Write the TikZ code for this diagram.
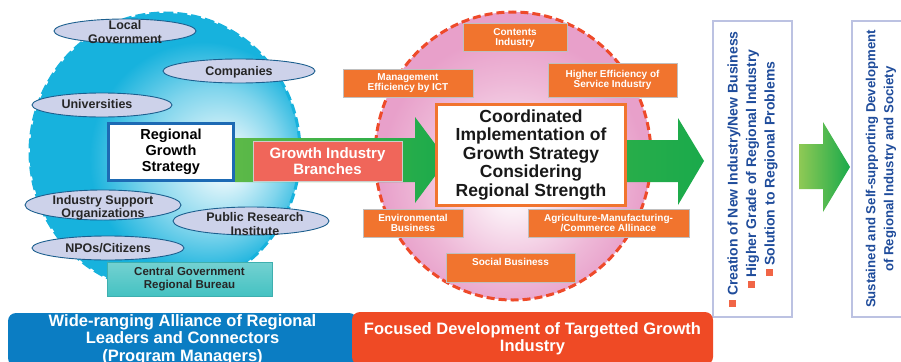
\documentclass[tikz,border=0pt]{standalone}
\usepackage{fontspec}
\setmainfont{Liberation Sans}
\usetikzlibrary{positioning}

\definecolor{skyblue}{HTML}{17B2DD}
\definecolor{lavender}{HTML}{CDD2EA}
\definecolor{ovalline}{HTML}{1C5F8E}
\definecolor{strategyblue}{HTML}{1D6AB4}
\definecolor{pinkball}{HTML}{E8A0CA}
\definecolor{dashred}{HTML}{EE4A2A}
\definecolor{branchorange}{HTML}{F1742E}
\definecolor{salmon}{HTML}{F0665A}
\definecolor{growgreen}{HTML}{1AAA4B}
\definecolor{lightgreen}{HTML}{5DB948}
\definecolor{palegreen}{HTML}{8FC955}
\definecolor{bureauteal}{HTML}{45C2C2}
\definecolor{alliance}{HTML}{0B7DC3}
\definecolor{focusred}{HTML}{EF4A25}
\definecolor{resultblue}{HTML}{1F4C9B}
\definecolor{frameline}{HTML}{BCC2E2}

\pgfdeclareradialshading{bluesphere}{\pgfpoint{12bp}{-2bp}}{color(0bp)=(white); color(4bp)=(white!85!skyblue); color(13bp)=(skyblue!55!white); color(21bp)=(skyblue); color(50bp)=(skyblue)}
\pgfdeclareradialshading{pinksphere}{\pgfpoint{0bp}{-6bp}}{color(0bp)=(white); color(5bp)=(white!80!pinkball); color(17bp)=(pinkball!75!white); color(24bp)=(pinkball); color(50bp)=(pinkball)}

% small red square for the result list
\newcommand\sqbullet{{\color{focusred!85}\raisebox{1.5pt}{\rule{7pt}{7pt}}}}

\begin{document}
\begin{tikzpicture}[x=1pt, y=-1pt,
	oval/.style={draw=ovalline, line width=0.9pt, fill=lavender},
	ovaltext/.style={align=center, text=black!85, font=\fontsize{12.5}{13.5}\selectfont\bfseries},
	branch/.style={draw=gray!50, line width=1pt, fill=branchorange, text=white, inner sep=0pt, align=center, font=\fontsize{10}{10.5}\selectfont\bfseries},
	bigbox/.style={fill=white, line width=3pt, inner sep=0pt, align=center},
	bar/.style={rounded corners=8pt, text=white, inner sep=0pt, align=center, font=\fontsize{16.5}{17.5}\selectfont\bfseries},
	outcome/.style={draw=frameline, line width=1.5pt, fill=white, rotate=90, inner sep=0pt, text=resultblue, align=center}]

	\useasboundingbox (0,0) rectangle (901,361);
	\clip (0,0) rectangle (901,361);

	% the two regions
	\shadedraw[shading=bluesphere, draw=skyblue, line width=3pt, dash pattern=on 10pt off 4pt] (165,152) ellipse [x radius=135, y radius=139];
	\shadedraw[shading=pinksphere, draw=dashred, line width=3pt, dash pattern=on 8pt off 4pt] (513,156) ellipse [x radius=138, y radius=144];

	% regional actors
	\draw[oval] (125,31) ellipse [x radius=71, y radius=12];
	\node[ovaltext] (localgov) at (125,32) {Local\\Government};
	\draw[oval] (239,71) ellipse [x radius=76, y radius=12];
	\node[ovaltext] (companies) at (239,72) {Companies};
	\draw[oval] (102,105) ellipse [x radius=70, y radius=12];
	\node[ovaltext] (univ) at (97,104) {Universities};
	\draw[oval] (103,205) ellipse [x radius=78, y radius=15];
	\node[ovaltext, font=\fontsize{12.5}{12.5}\selectfont\bfseries] (support) at (103,208) {Industry Support\\Organizations};
	\draw[oval] (251,221) ellipse [x radius=78, y radius=14];
	\node[ovaltext] (research) at (255,224) {Public Research\\Institute};
	\draw[oval] (108,248) ellipse [x radius=76, y radius=12];
	\node[ovaltext] (npo) at (108,248) {NPOs/Citizens};

	\node[top color=bureauteal!75!white, bottom color=bureauteal, draw=bureauteal!90!black, line width=0.8pt,
		minimum width=165, minimum height=34, inner sep=0pt, align=center, text=black!85,
		font=\fontsize{11.5}{13}\selectfont\bfseries] (bureau) at (189.5,279) {Central Government\\Regional Bureau};

	% growth branches around the core
	\node[branch, minimum width=104, minimum height=28] (contents) at (515,38) {Contents\\Industry};
	\node[branch, minimum width=130, minimum height=28] (ict) at (408,83) {Management\\Efficiency by ICT};
	\node[branch, minimum width=129, minimum height=34] (service) at (612.5,80) {Higher Efficiency of\\Service Industry};
	\node[branch, minimum width=100, minimum height=28] (envbiz) at (413,223) {Environmental\\Business};
	\node[branch, minimum width=161, minimum height=28] (agri) at (608.5,223) {Agriculture-Manufacturing-\\/Commerce Allinace};
	\node[branch, minimum width=129, minimum height=29, text depth=11pt] (social) at (510.5,267.5) {Social Business};

	% block arrows
	\shade[left color=lightgreen, right color=growgreen] (235,138) -- (415,138) -- (415,117) -- (447,160) -- (415,203) -- (415,182) -- (235,182) -- cycle;
	\shade[left color=growgreen!80!lightgreen, right color=growgreen] (627,140) -- (678,140) -- (678,118) -- (704,161) -- (678,205) -- (678,182) -- (627,182) -- cycle;
	\shade[left color=palegreen, right color=growgreen] (799,144) -- (823,144) -- (823,122) -- (850,167) -- (823,212) -- (823,189) -- (799,189) -- cycle;

	\node[bigbox, draw=strategyblue, minimum width=125, minimum height=57,
		font=\fontsize{14.5}{16}\selectfont\bfseries] (strategy) at (171,152) {Regional\\Growth\\Strategy};
	\node[fill=salmon, draw=gray!40, line width=1pt, minimum width=149, minimum height=40, inner sep=0pt,
		align=center, text=white, font=\fontsize{15}{16.5}\selectfont\bfseries] (branches) at (327.5,161) {Growth Industry\\Branches};
	\node[bigbox, draw=branchorange, minimum width=189, minimum height=101, text=black!90,
		font=\fontsize{17.5}{18.5}\selectfont\bfseries] (core) at (531,155) {Coordinated\\Implementation of\\Growth Strategy\\Considering\\Regional Strength};

	% results
	\node[outcome, minimum width=296, minimum height=79, font=\fontsize{14}{18.5}\selectfont\bfseries] (result) at (752.5,169)
		{\sqbullet\ Creation of New Industry/New Business\\\sqbullet\ Higher Grade of Regional Industry\\\sqbullet\ Solution to Regional Problems};
	\node[outcome, minimum width=296, minimum height=58, font=\fontsize{13.2}{18}\selectfont\bfseries] (goal) at (881,169)
		{Sustained and Self-supporting Development\\of Regional Industry and Society};

	% bottom bars
	\node[bar, fill=alliance, minimum width=349, minimum height=53] (alliance) at (182.5,339.5)
		{Wide-ranging Alliance of Regional\\Leaders and Connectors\\(Program Managers)};
	\node[bar, fill=focusred, minimum width=361, minimum height=53] (focus) at (532.5,338.5)
		{Focused Development of Targetted Growth\\Industry};
\end{tikzpicture}
\end{document}
